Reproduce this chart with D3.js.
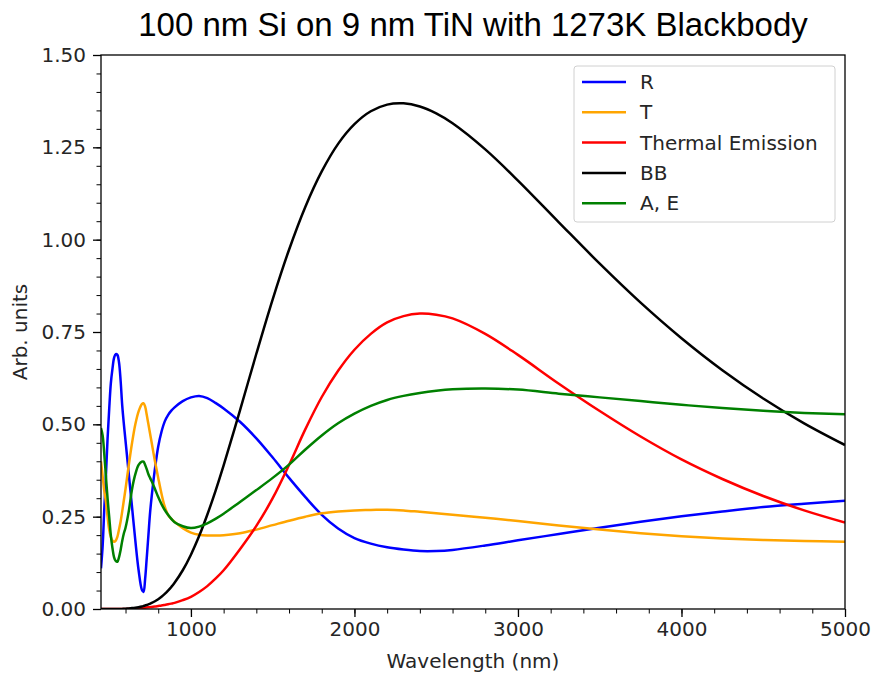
<!DOCTYPE html>
<html><head><meta charset="utf-8">
<script src="https://cdn.jsdelivr.net/npm/d3@7"></script>
<style>body{margin:0;background:#fff}</style>
</head><body>
<svg id="c" width="874" height="675"></svg>
<script>
const wavelength = [450,460,470,480,490,500,510,520,530,540,550,560,570,580,590,600,620,640,660,680,700,710,720,730,740,750,760,780,800,820,840,860,880,900,950,1000,1050,1100,1150,1200,1300,1400,1500,1600,1700,1800,1900,2000,2100,2200,2300,2400,2500,2600,2800,3000,3250,3500,3750,4000,4250,4500,4750,5000];
const R = [0.11,0.17,0.27,0.36,0.46,0.54,0.61,0.65,0.68,0.69,0.688,0.668,0.618,0.55,0.50,0.455,0.365,0.275,0.185,0.105,0.052,0.046,0.082,0.14,0.20,0.26,0.305,0.38,0.44,0.48,0.508,0.525,0.537,0.546,0.563,0.573,0.577,0.571,0.558,0.543,0.507,0.462,0.41,0.355,0.303,0.255,0.218,0.192,0.177,0.167,0.161,0.157,0.157,0.160,0.172,0.186,0.203,0.220,0.236,0.251,0.264,0.276,0.285,0.293];
const T = [0.40,0.36,0.32,0.29,0.25,0.215,0.195,0.185,0.182,0.185,0.195,0.215,0.237,0.265,0.295,0.325,0.39,0.45,0.50,0.535,0.555,0.557,0.548,0.525,0.50,0.475,0.45,0.40,0.355,0.312,0.277,0.255,0.244,0.236,0.219,0.207,0.201,0.199,0.199,0.200,0.205,0.215,0.227,0.239,0.25,0.259,0.264,0.267,0.268,0.269,0.267,0.263,0.259,0.255,0.247,0.238,0.226,0.215,0.205,0.197,0.191,0.187,0.184,0.182];
const thermalEmission = [0,0,0,0,0,0,0,0,0,0,0,0,0,0,0,0.0002,0.0004,0.0008,0.0013,0.002,0.0028,0.0032,0.0037,0.0041,0.0046,0.0051,0.0057,0.0068,0.0081,0.0094,0.011,0.0127,0.0146,0.0167,0.024,0.033,0.046,0.062,0.082,0.105,0.162,0.225,0.300,0.390,0.487,0.574,0.645,0.702,0.745,0.776,0.793,0.80,0.797,0.787,0.745,0.688,0.610,0.536,0.467,0.405,0.352,0.306,0.267,0.234];
const BB = [0,0,0,0,0,0,0,0,0,0,0,0,0,0.0003,0.0006,0.001,0.0016,0.0024,0.0035,0.005,0.0069,0.0081,0.0094,0.0109,0.0125,0.0144,0.0164,0.021,0.0266,0.0332,0.0409,0.0497,0.0597,0.071,0.1049,0.1471,0.1974,0.2552,0.3194,0.3889,0.5379,0.6911,0.8386,0.9728,1.0893,1.1847,1.2594,1.3127,1.3476,1.3657,1.3691,1.3606,1.3419,1.3152,1.2444,1.16,1.047,0.935,0.8295,0.7332,0.6466,0.5701,0.5028,0.444];
const AE = [0.49,0.47,0.42,0.36,0.30,0.25,0.20,0.165,0.14,0.13,0.128,0.14,0.16,0.185,0.205,0.22,0.265,0.325,0.365,0.39,0.399,0.399,0.39,0.378,0.365,0.355,0.346,0.325,0.303,0.284,0.268,0.255,0.244,0.235,0.224,0.219,0.223,0.232,0.244,0.258,0.290,0.322,0.355,0.391,0.432,0.470,0.503,0.529,0.550,0.566,0.577,0.585,0.591,0.595,0.597,0.594,0.583,0.573,0.563,0.553,0.544,0.537,0.531,0.527];

const seriesNames = ["R","T","Thermal Emission","BB","A, E"];
const seriesColors = ["#0000ff","#ffa500","#ff0000","#000000","#008000"];
const seriesValues = [R, T, thermalEmission, BB, AE];

const xTicks = [1000,2000,3000,4000,5000];
const xMinorTicks = d3.range(600, 5001, 200);
const yTicks = [0,0.25,0.5,0.75,1.0,1.25,1.5];
const yMinorTicks = d3.range(0, 1.5001, 0.05);

const titleText = "100 nm Si on 9 nm TiN with 1273K Blackbody";
const xLabel = "Wavelength (nm)";
const yLabel = "Arb. units";

const m = {left:101, right:845, top:55, bottom:609};
const svg = d3.select("#c");
const x = d3.scaleLinear().domain([450,5000]).range([m.left, m.right]);
const y = d3.scaleLinear().domain([0,1.5]).range([m.bottom, m.top]);

svg.append("defs").append("clipPath").attr("id","clip")
  .append("rect").attr("x",m.left).attr("y",m.top).attr("width",m.right-m.left).attr("height",m.bottom-m.top);

const tickFont = "'DejaVu Sans', sans-serif";
const fs = "20px";

const gxMinor = svg.append("g").attr("transform",`translate(0,${m.bottom})`)
  .call(d3.axisBottom(x).tickValues(xMinorTicks).tickSize(4.5).tickFormat(""));
const gyMinor = svg.append("g").attr("transform",`translate(${m.left},0)`)
  .call(d3.axisLeft(y).tickValues(yMinorTicks).tickSize(4.5).tickFormat(""));
[gxMinor, gyMinor].forEach(g=>{g.select(".domain").remove(); g.selectAll("line").attr("stroke","#000").attr("stroke-width",1);});

const gx = svg.append("g").attr("transform",`translate(0,${m.bottom})`)
  .call(d3.axisBottom(x).tickValues(xTicks).tickSize(8).tickPadding(5).tickFormat(d3.format("d")));
const gy = svg.append("g").attr("transform",`translate(${m.left},0)`)
  .call(d3.axisLeft(y).tickValues(yTicks).tickSize(8).tickPadding(7).tickFormat(d3.format(".2f")));
[gx, gy].forEach(g=>{
  g.select(".domain").remove();
  g.selectAll("line").attr("stroke","#000").attr("stroke-width",1.3);
  g.selectAll("text").attr("fill","#262626").style("font-family",tickFont).style("font-size",fs);
});

const line = d3.line().x((d,i)=>x(wavelength[i])).y(d=>y(d)).curve(d3.curveCatmullRom.alpha(0.5));
const plot = svg.append("g").attr("clip-path","url(#clip)");
seriesValues.forEach((vals,k)=>{
  plot.append("path").datum(vals).attr("d",line).attr("fill","none")
    .attr("stroke",seriesColors[k]).attr("stroke-width",2.5).attr("stroke-linejoin","round");
});

svg.append("rect").attr("x",m.left).attr("y",m.top).attr("width",m.right-m.left).attr("height",m.bottom-m.top)
  .attr("fill","none").attr("stroke","#000").attr("stroke-width",1.3);

svg.append("text").attr("x",473).attr("y",36).attr("text-anchor","middle")
  .style("font-family","'Liberation Sans', Arial, sans-serif").style("font-size","33px").attr("fill","#000")
  .text(titleText);
svg.append("text").attr("x",(m.left+m.right)/2).attr("y",668).attr("text-anchor","middle")
  .style("font-family",tickFont).style("font-size",fs).attr("fill","#262626").text(xLabel);
svg.append("text").attr("transform",`translate(27,${(m.top+m.bottom)/2}) rotate(-90)`).attr("text-anchor","middle")
  .style("font-family",tickFont).style("font-size",fs).attr("fill","#262626").text(yLabel);

const lg = svg.append("g");
lg.append("rect").attr("x",574).attr("y",66).attr("width",261).attr("height",156).attr("rx",3)
  .attr("fill","#fff").attr("fill-opacity",0.8).attr("stroke","#d0d0d0").attr("stroke-width",1);
seriesNames.forEach((n,k)=>{
  const yy = 82 + k*30.3;
  lg.append("line").attr("x1",582).attr("x2",626).attr("y1",yy).attr("y2",yy)
    .attr("stroke",seriesColors[k]).attr("stroke-width",2.5);
  lg.append("text").attr("x",640).attr("y",yy+7).style("font-family",tickFont).style("font-size",fs)
    .attr("fill","#262626").text(n);
});
</script>
</body></html>
